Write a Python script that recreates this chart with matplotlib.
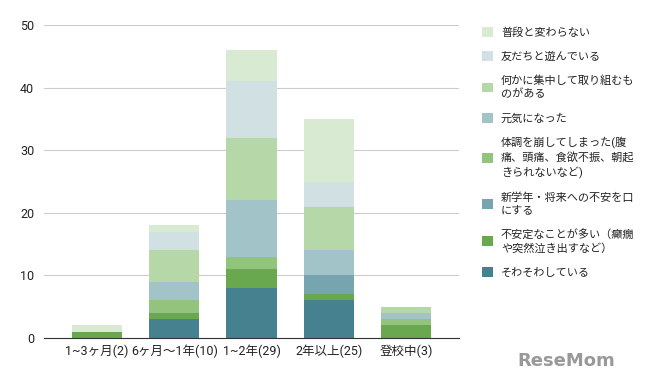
import matplotlib.pyplot as plt
from matplotlib.patches import Patch
import numpy as np

plt.rcParams['font.family'] = ['Roboto', 'Noto Sans CJK JP', 'DejaVu Sans']

# categories and series values (bottom to top)
categories = ['1~3ヶ月(2)', '6ヶ月～1年(10)', '1~2年(29)', '2年以上(25)', '登校中(3)']
series_names = [
    'そわそわしている',
    '不安定なことが多い（癲癇\nや突然泣き出すなど）',
    '新学年・将来への不安を口\nにする',
    '体調を崩してしまった(腹\n痛、頭痛、食欲不振、朝起\nきられないなど)',
    '元気になった',
    '何かに集中して取り組むも\nのがある',
    '友だちと遊んでいる',
    '普段と変わらない',
]
sowasowa = [0, 3, 8, 6, 0]
fuantei = [1, 1, 3, 1, 2]
shingakunen = [0, 0, 0, 3, 0]
taicho = [0, 2, 2, 0, 1]
genki = [0, 3, 9, 4, 1]
shuchu = [0, 5, 10, 7, 1]
tomodachi = [0, 3, 9, 4, 0]
fudan = [1, 1, 5, 10, 0]
values = [sowasowa, fuantei, shingakunen, taicho, genki, shuchu, tomodachi, fudan]
colors = ['#45818e', '#6aa84f', '#76a5af', '#93c47d', '#a2c4c9', '#b6d7a8', '#d0e0e3', '#d9ead3']

fig = plt.figure(figsize=(6.54, 3.79), dpi=100)
ax = fig.add_axes([44 / 654, 1 - 338 / 379, 415 / 654, 313 / 379])

x = np.arange(len(categories))
bottom = np.zeros(len(categories))
for vals, col in zip(values, colors):
    ax.bar(x, vals, bottom=bottom, width=0.65, color=col, zorder=3)
    bottom += np.array(vals)

ax.set_xlim(-0.686, 4.686)
ax.set_ylim(0, 50)
ax.set_yticks([0, 10, 20, 30, 40, 50])
ax.set_xticks(x)
ax.set_xticklabels(categories, fontsize=9, color='#222222')
ax.tick_params(axis='y', labelsize=9, colors='#222222', length=0, pad=7)
ax.tick_params(axis='x', length=0, pad=5)
ax.grid(axis='y', color='#cccccc', linewidth=0.8, zorder=0)
for s in ['top', 'right', 'left']:
    ax.spines[s].set_visible(False)
ax.spines['bottom'].set_color('#333333')
ax.spines['bottom'].set_zorder(4)

handles = [Patch(facecolor=c, edgecolor='none') for c in colors]
leg = fig.legend(handles[::-1], series_names[::-1], loc='upper left',
                 bbox_to_anchor=(472 / 654, 1 - 17 / 379), frameon=False,
                 fontsize=8, handlelength=1.0, handleheight=1.0,
                 handletextpad=0.7, labelspacing=1.2)
for t in leg.get_texts():
    t.set_color('#222222')
    t.set_linespacing(1.35)

fig.text(0.94, 0.025, 'ReseMom', ha='right', va='bottom', fontsize=13,
         fontweight='bold', color='#999999', family='DejaVu Sans')

fig.savefig('out.png', dpi=100)
